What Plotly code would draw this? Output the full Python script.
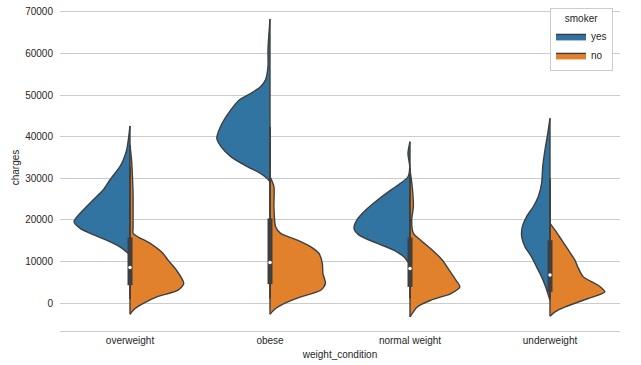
import plotly.graph_objects as go

categories = ["overweight", "obese", "normal weight", "underweight"]
smoker_levels = ["yes", "no"]

# density profiles (charges, relative density)
overweight_yes_charges = [42580, 39200, 36800, 34400, 32800, 29600, 27200, 24800, 21600, 19560, 17970, 16770, 15150, 13540, 11950, 11550]
overweight_yes_density = [0, 0.03, 0.06, 0.12, 0.18, 0.36, 0.48, 0.66, 0.89, 1.0, 0.89, 0.71, 0.42, 0.18, 0.03, 0]
overweight_no_charges = [38000, 34000, 30000, 26000, 22000, 18000, 16770, 15950, 14360, 11950, 10340, 7940, 4740, 3130, 1520, -80, -1280, -2650]
overweight_no_density = [0, 0.03, 0.045, 0.055, 0.055, 0.055, 0.055, 0.14, 0.36, 0.59, 0.68, 0.83, 0.96, 0.86, 0.48, 0.23, 0.09, 0]

obese_yes_charges = [68250, 64900, 60860, 56840, 53650, 52000, 50440, 48830, 46430, 44020, 41620, 39620, 37600, 35200, 32790, 31200, 30000, 29180]
obese_yes_density = [0, 0.018, 0.036, 0.036, 0.08, 0.17, 0.34, 0.55, 0.70, 0.82, 0.91, 0.95, 0.875, 0.70, 0.405, 0.17, 0.054, 0]
obese_no_charges = [30400, 27980, 23170, 18350, 16770, 15150, 13540, 11950, 9550, 7140, 4740, 3130, 1520, -80, -1280, -2650]
obese_no_density = [0, 0.07, 0.07, 0.10, 0.19, 0.49, 0.73, 0.875, 0.935, 0.945, 0.99, 0.905, 0.55, 0.25, 0.10, 0]

normal_yes_charges = [38800, 36000, 32800, 30380, 28790, 27180, 24780, 22370, 19970, 17970, 16360, 14360, 12750, 11140, 9550, 9140]
normal_yes_density = [0, 0.036, 0.005, 0.036, 0.17, 0.345, 0.58, 0.79, 0.95, 1.0, 0.91, 0.58, 0.29, 0.11, 0.018, 0]
normal_no_charges = [32000, 27980, 23170, 19970, 16770, 15150, 12750, 10340, 7940, 5530, 3920, 2330, 720, -890, -3290]
normal_no_density = [0, 0.04, 0.06, 0.03, 0.06, 0.19, 0.40, 0.58, 0.70, 0.82, 0.89, 0.73, 0.37, 0.13, 0]

underweight_yes_charges = [44430, 40820, 36800, 32790, 28790, 25570, 23170, 20760, 18350, 15950, 13540, 11140, 8730, 6330, 3920, 720]
underweight_yes_density = [0, 0.04, 0.09, 0.13, 0.15, 0.21, 0.30, 0.42, 0.495, 0.505, 0.445, 0.33, 0.24, 0.15, 0.077, 0]
underweight_no_charges = [19170, 17560, 15150, 12750, 10340, 8730, 6330, 4330, 2720, 1130, -890, -2090, -3130]
underweight_no_density = [0, 0.09, 0.21, 0.33, 0.445, 0.495, 0.595, 0.86, 0.98, 0.68, 0.27, 0.09, 0]

# inner box statistics per category
box_q1 = [4330, 4570, 3920, 2720]
box_median = [8580, 9790, 8350, 6810]
box_q3 = [15800, 20370, 15800, 15150]
whisker_low = [1100, 1130, 1120, 1130]
whisker_high = [32800, 42400, 32500, 30000]

y_ticks = [0, 10000, 20000, 30000, 40000, 50000, 60000, 70000]

profiles = [
    ((overweight_yes_charges, overweight_yes_density), (overweight_no_charges, overweight_no_density)),
    ((obese_yes_charges, obese_yes_density), (obese_no_charges, obese_no_density)),
    ((normal_yes_charges, normal_yes_density), (normal_no_charges, normal_no_density)),
    ((underweight_yes_charges, underweight_yes_density), (underweight_no_charges, underweight_no_density)),
]

COLORS = {"yes": "#3274a1", "no": "#e1812c"}
EDGE = "#3f3f3f"
HALF_WIDTH = 0.4
FONT = "Liberation Sans, Arial, sans-serif"
TEXT = "#262626"

fig = go.Figure()

for i, cat in enumerate(categories):
    for side, level in enumerate(smoker_levels):
        ys, ds = profiles[i][side]
        sign = -1 if level == "yes" else 1
        xs = [i + sign * HALF_WIDTH * d for d in ds]
        fig.add_trace(go.Scatter(
            x=xs, y=ys, mode="lines", fill="toself",
            fillcolor=COLORS[level],
            line=dict(color=EDGE, width=1.4, shape="spline", smoothing=0.7),
            name=level, legendgroup=level, showlegend=(i == 0),
            hoverinfo="skip",
        ))
        fig.add_trace(go.Scatter(
            x=[i, i], y=[min(ys), max(ys)], mode="lines",
            line=dict(color=EDGE, width=1.4), showlegend=False, hoverinfo="skip",
        ))

for i in range(len(categories)):
    fig.add_trace(go.Scatter(
        x=[i, i], y=[whisker_low[i], whisker_high[i]], mode="lines",
        line=dict(color=EDGE, width=1.8), showlegend=False, hoverinfo="skip",
    ))
    fig.add_trace(go.Scatter(
        x=[i, i], y=[box_q1[i], box_q3[i]], mode="lines",
        line=dict(color=EDGE, width=5), showlegend=False, hoverinfo="skip",
    ))
    fig.add_trace(go.Scatter(
        x=[i], y=[box_median[i]], mode="markers",
        marker=dict(color="white", size=3.5, line=dict(width=0)),
        showlegend=False, hoverinfo="skip",
    ))

fig.update_layout(
    width=641, height=365,
    margin=dict(l=60, r=21, t=4, b=34),
    paper_bgcolor="white", plot_bgcolor="white",
    font=dict(family=FONT, size=10, color=TEXT),
    legend=dict(
        title=dict(text="smoker", side="top center", font=dict(size=10)),
        x=0.9875, y=0.988, xanchor="right", yanchor="top",
        bordercolor="#cccccc", borderwidth=1, bgcolor="white",
        font=dict(size=10), tracegroupgap=0, itemwidth=30,
    ),
    showlegend=True,
    hovermode=False,
)
fig.update_xaxes(
    range=[-0.5, 3.5], tickvals=list(range(len(categories))), ticktext=categories,
    showgrid=False, zeroline=False, showline=True, linecolor="#cccccc", linewidth=1,
    ticks="", automargin=False,
    title=dict(text="weight_condition", standoff=5, font=dict(size=10)),
)
fig.update_yaxes(
    range=[-6670, 71870], tickvals=y_ticks, ticktext=[str(v) for v in y_ticks],
    showgrid=True, gridcolor="#cccccc", gridwidth=1, zeroline=False, showline=False,
    ticks="outside", ticklen=4, tickcolor="white", automargin=False,
    title=dict(text="charges", standoff=3, font=dict(size=10)),
)

fig.write_html(
    "out.html",
    config={"displayModeBar": False},
    post_script="document.body.style.margin='0';document.body.style.padding='0';",
)
